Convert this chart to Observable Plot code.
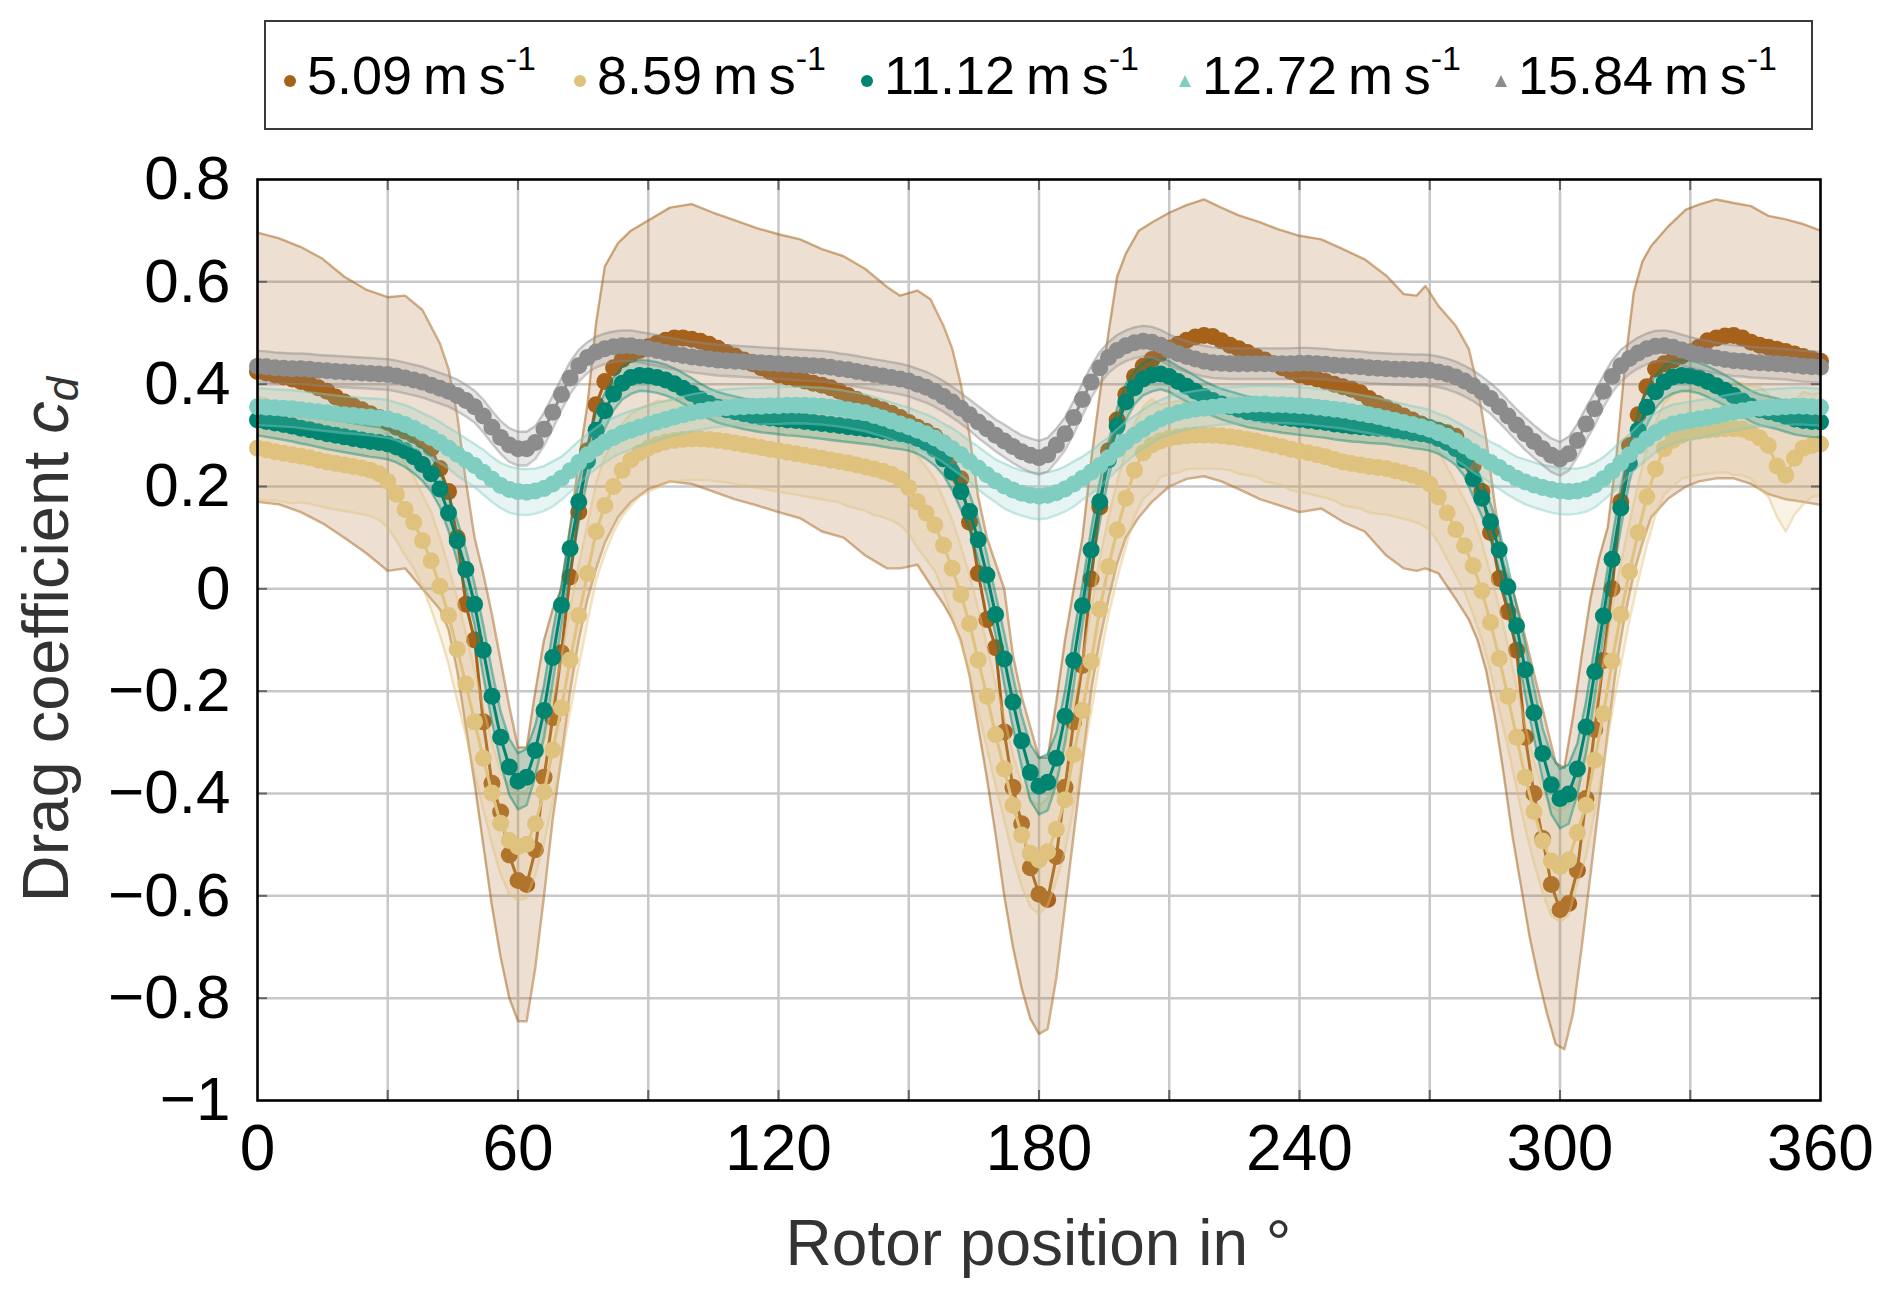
<!DOCTYPE html>
<html>
<head>
<meta charset="utf-8">
<script src="https://cdn.jsdelivr.net/npm/d3@7"></script>
<script src="https://cdn.jsdelivr.net/npm/@observablehq/plot@0.6"></script>
<style>
  html, body { margin: 0; padding: 0; background: #fff; }
  body { width: 1892px; font-family: "Liberation Sans", Arial, Helvetica, sans-serif; }
  #legend { position: relative; height: 150px; width: 1892px; }
  #legend .box { position: absolute; left: 264px; top: 20px; width: 1549px; height: 110px; box-sizing: border-box; border: 2.5px solid #3a3a3a; }
  #legend .item { position: absolute; top: 20px; height: 110px; display: flex; align-items: center; color: #000; font-size: 54px; white-space: nowrap; }
  #legend .item svg { margin-right: 10px; margin-top: 12px; }
  #legend sup { font-size: 34px; vertical-align: 0; position: relative; top: -24px; }
</style>
</head>
<body>
<div id="legend"><div class="box"></div></div>
<div id="chart"></div>
<script>
// ---------- data ----------
const speedLabels = ["5.09", "8.59", "11.12", "12.72", "15.84"];
const seriesColors = ["#a6611a", "#dfc27d", "#018571", "#80cdc1", "#8c8c8c"];
const legendShapes = ["circle", "circle", "circle", "triangle", "triangle"];

const xTicks = [0, 60, 120, 180, 240, 300, 360];
const xTickLabels = ["0", "60", "120", "180", "240", "300", "360"];
const xGrid = [30, 60, 90, 120, 150, 180, 210, 240, 270, 300, 330];
const yTicks = [-1, -0.8, -0.6, -0.4, -0.2, 0, 0.2, 0.4, 0.6, 0.8];
const yTickLabels = ["\u22121", "\u22120.8", "\u22120.6", "\u22120.4", "\u22120.2", "0", "0.2", "0.4", "0.6", "0.8"];
const yGrid = [-0.8, -0.6, -0.4, -0.2, 0, 0.2, 0.4, 0.6];

// rotor positions in degrees (one sample every 2 degrees)
const rotorAngles = d3.range(0, 361, 2);

// 5.09 m/s
const cd509 = [
 .425,.422,.418,.414,.410,.405,.400,.393,.386,.375,
 .365,.358,.350,.342,.335,.325,.316,.308,.300,.290,
 .275,.235,.190,.100,-.030,-.100,-.260,-.380,-.436,-.520,
 -.570,-.578,-.510,-.368,-.252,-.125,.023,.150,.270,.360,
 .405,.432,.448,.458,.466,.473,.480,.486,.490,.490,
 .488,.484,.478,.470,.462,.455,.447,.440,.432,.425,
 .418,.414,.410,.406,.402,.398,.393,.386,.378,.370,
 .362,.356,.350,.343,.335,.325,.316,.308,.298,.285,
 .260,.215,.130,.030,-.060,-.115,-.280,-.388,-.459,-.545,
 -.597,-.607,-.523,-.388,-.260,-.150,.019,.160,.270,.330,
 .380,.415,.435,.448,.460,.470,.478,.486,.492,.495,
 .493,.485,.476,.469,.462,.454,.447,.440,.432,.425,
 .418,.414,.410,.405,.400,.395,.390,.383,.372,.362,
 .354,.346,.338,.330,.322,.315,.310,.305,.298,.275,
 .240,.190,.110,.020,-.045,-.120,-.290,-.400,-.488,-.578,
 -.627,-.615,-.550,-.410,-.275,-.140,.000,.170,.280,.340,
 .395,.430,.440,.447,.455,.463,.472,.485,.490,.494,
 .495,.490,.482,.476,.472,.468,.464,.459,.454,.449,
 .445];

// 8.59 m/s
const cd859 = [
 .275,.272,.268,.265,.262,.259,.256,.252,.248,.245,
 .242,.239,.236,.232,.225,.210,.185,.155,.130,.094,
 .055,.005,-.052,-.118,-.186,-.260,-.331,-.399,-.458,-.492,
 -.504,-.499,-.459,-.397,-.315,-.233,-.139,-.052,.030,.112,
 .163,.200,.232,.252,.266,.275,.282,.287,.290,.292,
 .293,.293,.292,.290,.288,.285,.282,.279,.276,.273,
 .270,.267,.264,.261,.258,.255,.252,.249,.246,.242,
 .238,.234,.230,.224,.215,.198,.170,.148,.125,.085,
 .040,-.011,-.068,-.139,-.210,-.285,-.352,-.423,-.481,-.517,
 -.530,-.514,-.470,-.412,-.324,-.238,-.142,-.040,.043,.115,
 .177,.232,.266,.281,.289,.294,.297,.299,.300,.300,
 .300,.299,.297,.295,.292,.289,.285,.281,.277,.273,
 .269,.266,.262,.258,.253,.248,.245,.242,.239,.237,
 .235,.231,.227,.222,.216,.205,.180,.148,.116,.084,
 .045,-.004,-.066,-.136,-.210,-.290,-.368,-.435,-.493,-.532,
 -.543,-.530,-.476,-.423,-.335,-.244,-.141,-.050,.034,.110,
 .180,.234,.274,.290,.300,.305,.308,.310,.312,.313,
 .313,.312,.305,.295,.280,.240,.222,.255,.275,.280,
 .283];

// 11.12 m/s
const cd1112 = [
 .330,.327,.324,.321,.318,.314,.311,.307,.303,.300,
 .297,.294,.291,.288,.286,.283,.277,.270,.258,.243,
 .225,.195,.148,.094,.038,-.030,-.120,-.210,-.290,-.348,
 -.376,-.368,-.316,-.238,-.134,-.032,.079,.170,.250,.310,
 .348,.381,.402,.413,.417,.416,.413,.408,.401,.392,
 .382,.371,.362,.355,.350,.346,.342,.339,.336,.334,
 .332,.330,.329,.327,.325,.323,.321,.319,.317,.315,
 .313,.311,.308,.305,.303,.300,.294,.286,.273,.254,
 .228,.190,.151,.096,.027,-.050,-.137,-.221,-.297,-.359,
 -.386,-.378,-.331,-.249,-.140,-.033,.076,.170,.252,.318,
 .365,.393,.410,.418,.420,.415,.405,.396,.386,.376,
 .368,.361,.356,.351,.346,.343,.340,.338,.335,.333,
 .331,.329,.327,.325,.322,.320,.318,.317,.315,.314,
 .313,.310,.308,.305,.303,.300,.294,.286,.274,.252,
 .215,.177,.131,.076,.004,-.072,-.158,-.242,-.322,-.383,
 -.410,-.401,-.352,-.270,-.162,-.053,.058,.158,.245,.310,
 .355,.385,.404,.414,.417,.416,.412,.405,.397,.388,
 .378,.367,.357,.350,.346,.342,.337,.332,.329,.327,
 .326];

// 12.72 m/s
const cd1272 = [
 .356,.355,.354,.353,.352,.350,.348,.346,.344,.342,
 .340,.339,.337,.336,.334,.332,.327,.321,.314,.305,
 .296,.286,.275,.263,.252,.241,.228,.214,.202,.194,
 .190,.189,.191,.196,.205,.216,.231,.247,.262,.275,
 .287,.296,.304,.310,.316,.321,.326,.331,.336,.340,
 .344,.347,.350,.352,.354,.355,.356,.357,.357,.358,
 .358,.359,.359,.359,.358,.357,.355,.353,.350,.347,
 .344,.339,.334,.328,.322,.317,.310,.303,.295,.285,
 .274,.262,.249,.236,.223,.211,.201,.193,.187,.183,
 .181,.183,.188,.195,.205,.216,.228,.241,.256,.272,
 .287,.300,.312,.323,.332,.339,.344,.348,.351,.353,
 .355,.357,.358,.359,.360,.361,.361,.360,.360,.359,
 .358,.357,.355,.353,.351,.349,.346,.343,.340,.337,
 .333,.329,.325,.321,.317,.312,.305,.298,.289,.279,
 .268,.258,.247,.237,.226,.216,.209,.203,.198,.194,
 .191,.190,.191,.195,.203,.215,.230,.246,.262,.279,
 .293,.305,.315,.322,.326,.329,.332,.335,.338,.342,
 .345,.348,.351,.353,.354,.355,.356,.357,.357,.356,
 .355];

// 15.84 m/s
const cd1584 = [
 .435,.434,.432,.431,.430,.430,.429,.427,.426,.425,
 .424,.423,.422,.421,.420,.419,.416,.412,.408,.404,
 .398,.392,.386,.378,.368,.356,.338,.316,.296,.281,
 .274,.274,.286,.312,.345,.380,.412,.436,.452,.463,
 .469,.473,.475,.475,.472,.469,.466,.462,.459,.456,
 .453,.451,.449,.447,.446,.445,.444,.443,.442,.441,
 .440,.439,.438,.437,.436,.435,.433,.430,.428,.425,
 .422,.419,.416,.413,.410,.406,.400,.394,.386,.376,
 .365,.353,.340,.326,.313,.300,.289,.278,.268,.261,
 .256,.262,.281,.303,.335,.370,.404,.432,.452,.466,
 .475,.481,.484,.482,.476,.467,.460,.454,.449,.445,
 .442,.441,.440,.440,.440,.440,.440,.440,.440,.440,
 .441,.441,.440,.439,.437,.436,.435,.434,.432,.431,
 .430,.429,.429,.428,.428,.427,.424,.420,.414,.406,
 .397,.385,.372,.356,.338,.320,.303,.288,.274,.261,
 .254,.264,.290,.322,.352,.386,.415,.436,.450,.461,
 .469,.474,.475,.472,.467,.462,.458,.455,.451,.448,
 .446,.445,.443,.442,.441,.440,.439,.437,.435,.434,
 .433];

// half-width of the shaded bands, one value per 6 degrees (0, 6, ..., 360)
const spread859 = [
 .100,.095,.090,.090,.090,.090,.090,.095,.100,.100,
 .105,.100,.100,.095,.090,.085,.080,.080,.080,.080,
 .080,.080,.080,.085,.090,.090,.090,.095,.100,.100,
 .105,.100,.100,.095,.090,.070,.065,.065,.070,.075,
 .080,.080,.085,.090,.090,.090,.090,.095,.100,.100,
 .108,.100,.100,.095,.090,.085,.085,.090,.100,.110,
 .100];
const spread1112 = [
 .030,.030,.030,.030,.030,.030,.032,.035,.040,.050,
 .055,.050,.040,.035,.032,.030,.030,.030,.030,.030,
 .030,.030,.030,.030,.030,.030,.032,.035,.040,.050,
 .055,.050,.040,.035,.032,.030,.030,.030,.030,.030,
 .030,.030,.030,.030,.030,.030,.032,.035,.040,.050,
 .058,.050,.040,.035,.032,.030,.030,.030,.030,.030,
 .030];
const spread1272 = [
 .036,.036,.036,.036,.036,.037,.038,.040,.042,.044,
 .045,.044,.042,.040,.038,.037,.036,.036,.036,.036,
 .036,.036,.036,.036,.036,.037,.038,.040,.042,.044,
 .045,.044,.042,.040,.038,.037,.036,.036,.036,.036,
 .036,.036,.036,.036,.036,.037,.038,.040,.042,.044,
 .045,.044,.042,.040,.038,.037,.036,.036,.036,.036,
 .036];
const spread1584 = [
 .030,.030,.030,.030,.030,.030,.030,.030,.031,.032,
 .033,.032,.031,.030,.030,.030,.030,.030,.030,.030,
 .030,.030,.030,.030,.030,.030,.030,.030,.031,.032,
 .033,.032,.031,.030,.030,.030,.030,.030,.030,.030,
 .030,.030,.030,.030,.030,.030,.030,.030,.031,.032,
 .033,.032,.031,.030,.030,.030,.030,.030,.030,.030,
 .030];

// wide band of the 5.09 m/s series (own sampling)
const band509Angles = [
 0,5,10,15,20,25,30,34,38,42,44,46,48,50,52,54,56,58,60,62,
 64,66,68,70,72,74,76,78,80,83,86,90,95,100,105,110,115,120,
 125,130,135,140,145,148,152,155,158,160,162,164,166,168,170,172,174,176,178,180,
 182,184,186,188,190,192,194,196,198,200,203,206,210,214,218,222,226,231,235,240,
 245,250,255,260,264,267,269,272,276,279,281,283,285,287,289,291,293,295,297,299,
 301,303,305,307,309,311,313,315,317,319,321,325,329,332,336,340,344,348,352,356,360];
const band509Upper = [
 .696,.685,.668,.645,.610,.585,.570,.573,.545,.480,.430,.340,.210,.100,.030,-.050,-.140,-.230,-.310,-.310,
 -.200,-.100,-.040,.000,.120,.250,.360,.520,.630,.675,.700,.720,.745,.752,.735,.720,.705,.693,
 .683,.664,.650,.625,.590,.573,.583,.566,.514,.470,.400,.300,.180,.100,.050,.000,-.130,-.210,-.270,-.330,
 -.330,-.220,-.100,.000,.100,.250,.380,.500,.610,.655,.700,.716,.735,.750,.761,.745,.730,.716,.703,.690,
 .683,.664,.644,.612,.576,.573,.592,.553,.514,.469,.397,.294,.164,.050,.000,-.060,-.130,-.200,-.270,-.340,
 -.350,-.250,-.130,-.020,.060,.120,.260,.440,.580,.640,.670,.709,.741,.751,.761,.754,.748,.729,.722,.713,.700];
const band509Lower = [
 .170,.165,.150,.128,.100,.070,.035,.040,.000,-.040,-.080,-.160,-.270,-.380,-.500,-.620,-.720,-.800,-.845,-.845,
 -.740,-.600,-.450,-.330,-.200,-.100,-.020,.040,.090,.140,.170,.195,.210,.205,.190,.175,.163,.150,
 .138,.112,.100,.065,.040,.040,.047,.008,-.030,-.060,-.100,-.170,-.270,-.370,-.480,-.600,-.700,-.780,-.840,-.870,
 -.860,-.760,-.620,-.480,-.340,-.200,-.100,-.020,.050,.100,.140,.170,.200,.215,.220,.210,.195,.175,.164,.150,
 .157,.131,.112,.065,.040,.035,.040,.030,-.020,-.060,-.100,-.160,-.250,-.360,-.480,-.580,-.680,-.760,-.830,-.890,
 -.900,-.830,-.700,-.560,-.420,-.280,-.150,-.050,.030,.090,.140,.177,.200,.210,.216,.216,.205,.185,.175,.170,.164];

// ---------- build tables ----------
const seriesValues = [cd509, cd859, cd1112, cd1272, cd1584];
const seriesSpreads = [null, spread859, spread1112, spread1272, spread1584];

function seriesRows(k) {
  const vals = seriesValues[k], sp = seriesSpreads[k];
  return rotorAngles.map((a, i) => {
    const row = {angle: a, cd: vals[i]};
    if (sp) { const h = sp[Math.round(a / 6)]; row.lo = vals[i] - h; row.hi = vals[i] + h; }
    return row;
  });
}
const band509 = band509Angles.map((a, i) => ({angle: a, lo: band509Lower[i], hi: band509Upper[i]}));

const marks = [
  Plot.gridX(xGrid, {stroke: "#c8c8c8", strokeOpacity: 1, strokeWidth: 2.5}),
  Plot.gridY(yGrid, {stroke: "#c8c8c8", strokeOpacity: 1, strokeWidth: 2.5})
];

for (let k = 0; k < seriesValues.length; k++) {
  const color = seriesColors[k];
  const rows = seriesRows(k);
  const band = k === 0 ? band509 : rows;
  const edgeOpacity = k === 0 ? 0.5 : 0.45;
  marks.push(
    Plot.areaY(band, {x: "angle", y1: "lo", y2: "hi", fill: color, fillOpacity: 0.2}),
    Plot.line(band, {x: "angle", y: "lo", stroke: color, strokeOpacity: edgeOpacity, strokeWidth: 2.4}),
    Plot.line(band, {x: "angle", y: "hi", stroke: color, strokeOpacity: edgeOpacity, strokeWidth: 2.4}),
    Plot.line(rows, {x: "angle", y: "cd", stroke: color, strokeWidth: 3}),
    Plot.dot(rows, {x: "angle", y: "cd", r: 8.5, fill: color, stroke: "none"})
  );
}

marks.push(
  Plot.axisX(xGrid, {anchor: "top", tickSize: -10, tickFormat: () => "", stroke: "#666", strokeWidth: 2, label: null}),
  Plot.axisX(xGrid, {anchor: "bottom", tickSize: -10, tickFormat: () => "", stroke: "#666", strokeWidth: 2, label: null}),
  Plot.axisY(yGrid, {anchor: "left", tickSize: -10, tickFormat: () => "", stroke: "#666", strokeWidth: 2, label: null}),
  Plot.axisY(yGrid, {anchor: "right", tickSize: -10, tickFormat: () => "", stroke: "#666", strokeWidth: 2, label: null}),
  Plot.axisX(xTicks, {anchor: "bottom", tickSize: 0, tickPadding: 24, fontSize: 64, fill: "#000",
    tickFormat: d => xTickLabels[xTicks.indexOf(d)], label: null}),
  Plot.axisY(yTicks, {anchor: "left", tickSize: 0, tickPadding: 27, fontSize: 62, fill: "#000",
    tickFormat: d => yTickLabels[yTicks.findIndex(t => Math.abs(t - d) < 1e-9)], label: null}),
  Plot.frame({stroke: "#000", strokeWidth: 2.6})
);

const chart = Plot.plot({
  width: 1892,
  height: 1149,
  marginLeft: 257,
  marginRight: 72,
  marginTop: 29,
  marginBottom: 199,
  x: {domain: [0, 360]},
  y: {domain: [-1, 0.8]},
  style: {fontFamily: '"Liberation Sans", Arial, Helvetica, sans-serif', fontSize: "62px", color: "#000", background: "#fff", overflow: "visible"},
  marks
});
document.getElementById("chart").appendChild(chart);

// axis titles
const svg = d3.select(chart);
const xr = chart.scale("x").range, yr = chart.scale("y").range;
svg.append("text")
  .attr("x", (xr[0] + xr[1]) / 2).attr("y", yr[0] + 165)
  .attr("text-anchor", "middle").attr("font-size", 64).attr("fill", "#333")
  .text("Rotor position in \u00b0");
const yt = svg.append("text")
  .attr("transform", `translate(68,${(yr[0] + yr[1]) / 2}) rotate(-90)`)
  .attr("text-anchor", "middle").attr("font-size", 65).attr("fill", "#333");
yt.append("tspan").text("Drag coefficient ");
yt.append("tspan").attr("font-style", "italic").text("c");
yt.append("tspan").attr("font-style", "italic").attr("font-size", 44).attr("dy", 10).text("d");

// legend
const legendLefts = [283, 573, 860, 1178, 1494];
const legend = d3.select("#legend");
speedLabels.forEach((lab, k) => {
  const item = legend.append("div").attr("class", "item").style("left", legendLefts[k] + "px");
  const s = item.append("svg").attr("width", 14).attr("height", 14);
  if (legendShapes[k] === "circle") s.append("circle").attr("cx", 7).attr("cy", 7).attr("r", 6).attr("fill", seriesColors[k]);
  else s.append("path").attr("d", "M7,1 L13,13 L1,13 Z").attr("fill", seriesColors[k]);
  item.append("span").html(`${lab}\u2009m\u2009s<sup>-1</sup>`);
});
</script>
</body>
</html>
